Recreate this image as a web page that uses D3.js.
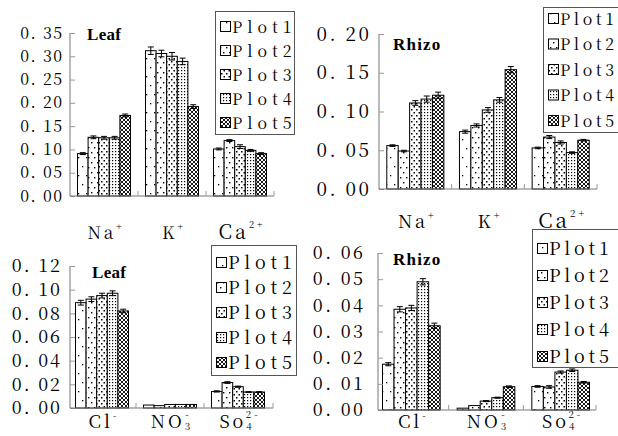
<!DOCTYPE html>
<html><head><meta charset="utf-8">
<script src="https://cdn.jsdelivr.net/npm/d3@7"></script>
<style>
html,body{margin:0;padding:0;background:#fff;}
svg{display:block;}
text{white-space:pre;font-family:"Noto Serif CJK SC","Liberation Serif","Times New Roman",serif;}
text.title{font-family:"Liberation Serif","Times New Roman",serif;}
</style></head>
<body>
<svg id="chart" width="618" height="436"></svg>
<script>
// ---------------- DATA ----------------
const seriesNames = ["Plot1", "Plot2", "Plot3", "Plot4", "Plot5"];
const cationLabels = ["Na+", "K+", "Ca2+"];
const anionLabels = ["Cl-", "NO3-", "SO42-"];

// rows = series (Plot1..Plot5), columns = categories
const leafCationValues = [
  [0.091, 0.312, 0.101],
  [0.126, 0.306, 0.119],
  [0.125, 0.300, 0.106],
  [0.125, 0.289, 0.098],
  [0.173, 0.192, 0.091]
];
const leafCationErrors = [
  [0.002, 0.008, 0.002],
  [0.003, 0.007, 0.002],
  [0.003, 0.008, 0.004],
  [0.003, 0.007, 0.002],
  [0.003, 0.004, 0.002]
];
const rhizoCationValues = [
  [0.056, 0.074, 0.053],
  [0.049, 0.082, 0.067],
  [0.111, 0.102, 0.060],
  [0.116, 0.115, 0.047],
  [0.121, 0.154, 0.063]
];
const rhizoCationErrors = [
  [0.001, 0.002, 0.001],
  [0.001, 0.002, 0.002],
  [0.003, 0.003, 0.002],
  [0.004, 0.003, 0.001],
  [0.004, 0.004, 0.001]
];
const leafAnionValues = [
  [0.089, 0.0025, 0.0140],
  [0.092, 0.0020, 0.0215],
  [0.095, 0.0030, 0.0180],
  [0.097, 0.0030, 0.0135],
  [0.082, 0.0030, 0.0135]
];
const leafAnionErrors = [
  [0.0020, 0, 0.0005],
  [0.0020, 0, 0.0007],
  [0.0020, 0, 0.0005],
  [0.0020, 0, 0.0003],
  [0.0015, 0, 0.0003]
];
const rhizoAnionValues = [
  [0.0175, 0.0007, 0.0090],
  [0.0385, 0.0017, 0.0088],
  [0.0390, 0.0034, 0.0145],
  [0.0490, 0.0047, 0.0152],
  [0.0322, 0.0089, 0.0106]
];
const rhizoAnionErrors = [
  [0.0006, 0, 0.0003],
  [0.0010, 0, 0.0005],
  [0.0010, 0.0002, 0.0004],
  [0.0012, 0.0002, 0.0005],
  [0.0010, 0.0003, 0.0003]
];

const leafCationTicks = [0, 0.05, 0.10, 0.15, 0.20, 0.25, 0.30, 0.35];
const rhizoCationTicks = [0, 0.05, 0.10, 0.15, 0.20];
const leafAnionTicks = [0, 0.02, 0.04, 0.06, 0.08, 0.10, 0.12];
const rhizoAnionTicks = [0, 0.01, 0.02, 0.03, 0.04, 0.05, 0.06];

// ---------------- LAYOUT ----------------
const panels = [
  {title: "Leaf", cats: cationLabels, values: leafCationValues, errors: leafCationErrors, ticks: leafCationTicks,
   ax: 70, axEnd: 274, bx0: 70, bx1: 274, y0: 196, yTop: 33, pad: 7.5,
   tickFont: 16, tickLS: 1.5, tickRight: 62,
   titleX: 87, titleY: 40, labelY: 239, labelFont: 17,
   legend: {x: 215, y: 11, w: 79, h: 123, first: 27, step: 24, font: 16, ls: 5}},
  {title: "Rhizo", cats: cationLabels, values: rhizoCationValues, errors: rhizoCationErrors, ticks: rhizoCationTicks,
   ax: 379, axEnd: 597, bx0: 379, bx1: 597, y0: 189, yTop: 34, pad: 7.8,
   tickFont: 19, tickLS: 2.5, tickRight: 369,
   titleX: 393, titleY: 50, labelY: 228, labelFont: 18,
   legend: {x: 543, y: 7, w: 80, h: 125, first: 19, step: 25.5, font: 16, ls: 3.6}},
  {title: "Leaf", cats: anionLabels, values: leafAnionValues, errors: leafAnionErrors, ticks: leafAnionTicks,
   ax: 70, axEnd: 273, bx0: 68, bx1: 272, y0: 408, yTop: 266, pad: 7.5,
   tickFont: 18, tickLS: 2, tickRight: 60,
   titleX: 92, titleY: 278, labelY: 428, labelFont: 18,
   legend: {x: 211, y: 245, w: 85, h: 130, first: 263, step: 25, font: 18, ls: 4.8}},
  {title: "Rhizo", cats: anionLabels, values: rhizoAnionValues, errors: rhizoAnionErrors, ticks: rhizoAnionTicks,
   ax: 378, axEnd: 596, bx0: 374, bx1: 598, y0: 410, yTop: 253, pad: 8.5,
   tickFont: 18, tickLS: 2.5, tickRight: 363,
   titleX: 393, titleY: 265, labelY: 428, labelFont: 18,
   legend: {x: 532, y: 229, w: 90, h: 138, first: 249, step: 27, font: 18, ls: 3.8}}
];

const svg = d3.select("#chart");
const defs = svg.append("defs");

// ---------------- PATTERNS ----------------
function dotPattern(id, w, h, dots, r) {
  const p = defs.append("pattern").attr("id", id).attr("patternUnits", "userSpaceOnUse")
    .attr("width", w).attr("height", h);
  p.append("rect").attr("width", w).attr("height", h).attr("fill", "#fff");
  dots.forEach(d => p.append("rect").attr("x", d[0]).attr("y", d[1]).attr("width", r).attr("height", r).attr("fill", "#000"));
}
dotPattern("pat0", 8, 18, [[2, 4], [6, 13]], 1.3);
dotPattern("pat1", 6, 10, [[1, 2], [4, 7]], 1.4);
dotPattern("pat2", 5, 6, [[1, 1], [3.5, 4]], 1.5);
dotPattern("pat3", 3, 3, [[1, 1]], 1.2);
(function () {
  const p = defs.append("pattern").attr("id", "pat4").attr("patternUnits", "userSpaceOnUse")
    .attr("width", 4).attr("height", 4);
  p.append("rect").attr("width", 4).attr("height", 4).attr("fill", "#fff");
  p.append("path").attr("d", "M0,0L4,4M4,0L0,4").attr("stroke", "#000").attr("stroke-width", 0.9);
})();
const patFill = i => `url(#pat${i})`;

// ---------------- LABEL HELPERS ----------------
function catLabel(g, label, x, y, fs) {
  const t = g.append("text").attr("x", x).attr("y", y).attr("text-anchor", "middle")
    .attr("font-size", fs).attr("fill", "#000")
    .attr("letter-spacing", 3);
  const small = fs * 0.55;
  if (label === "Na+") { t.append("tspan").text("Na"); t.append("tspan").attr("font-size", small).attr("dy", -9).text("+"); }
  else if (label === "K+") { t.append("tspan").text("K"); t.append("tspan").attr("font-size", small).attr("dy", -9).text("+"); }
  else if (label === "Ca2+") { t.append("tspan").attr("font-size", fs * 1.15).text("Ca"); t.append("tspan").attr("font-size", small).attr("dy", -11).text("2+"); }
  else if (label === "Cl-") { t.append("tspan").text("Cl"); t.append("tspan").attr("font-size", small).attr("dy", -9).text("-"); }
  else if (label === "NO3-") {
    t.append("tspan").text("NO");
    t.append("tspan").attr("font-size", small).attr("dy", 2).text("3");
    t.append("tspan").attr("font-size", small).attr("dx", -8).attr("dy", -12).text("-");
  } else if (label === "SO42-") {
    t.append("tspan").text("So");
    t.append("tspan").attr("font-size", small).attr("dy", 2).text("4");
    t.append("tspan").attr("font-size", small).attr("dx", -9).attr("dy", -12).text("2-");
  }
  return t;
}

// ---------------- DRAW PANELS ----------------
panels.forEach(P => {
  const g = svg.append("g");
  const dmax = P.ticks[P.ticks.length - 1];
  const y = d3.scaleLinear().domain([0, dmax]).range([P.y0, P.yTop]);
  const x0 = d3.scaleBand().domain(P.cats).range([P.bx0, P.bx1]).padding(0);
  const x1 = d3.scaleBand().domain(seriesNames).range([P.pad, x0.bandwidth() - P.pad]).padding(0);

  // bars
  seriesNames.forEach((s, si) => {
    P.cats.forEach((c, ci) => {
      const v = P.values[si][ci];
      const bx = x0(c) + x1(s);
      g.append("rect").attr("x", bx).attr("y", y(v)).attr("width", x1.bandwidth())
        .attr("height", P.y0 - y(v)).attr("fill", patFill(si))
        .attr("stroke", "#000").attr("stroke-width", 1);
      const e = P.errors[si][ci];
      if (e > 0) {
        const cx = bx + x1.bandwidth() / 2, cw = 3;
        g.append("path").attr("d",
          `M${cx},${y(v - e)}V${y(v + e)}M${cx - cw},${y(v + e)}H${cx + cw}M${cx - cw},${y(v - e)}H${cx + cw}`)
          .attr("stroke", "#000").attr("stroke-width", 1).attr("fill", "none");
      }
    });
  });

  // y axis (ticks pointing inwards)
  const yAxis = d3.axisRight(y).tickValues(P.ticks).tickSize(5).tickFormat("");
  const ya = g.append("g").attr("transform", `translate(${P.ax},0)`).call(yAxis);
  ya.select(".domain").attr("stroke", "#777").attr("d", `M0,${P.yTop}V${P.y0}`);
  ya.selectAll(".tick line").attr("stroke", "#999");
  // tick labels
  P.ticks.forEach(tv => {
    g.append("text").attr("x", P.tickRight + P.tickLS).attr("y", y(tv)).attr("dy", "0.35em")
      .attr("text-anchor", "end").attr("font-size", P.tickFont)
      .attr("letter-spacing", P.tickLS).attr("fill", "#000")
      .text(d3.format(".2f")(tv).replace(".", ". "));
  });

  // x axis
  g.append("line").attr("x1", P.ax).attr("x2", P.axEnd).attr("y1", P.y0).attr("y2", P.y0)
    .attr("stroke", "#777");
  P.cats.slice(1).forEach(c => {
    g.append("line").attr("x1", x0(c)).attr("x2", x0(c)).attr("y1", P.y0).attr("y2", P.y0 - 5)
      .attr("stroke", "#999");
  });
  g.append("line").attr("x1", P.axEnd).attr("x2", P.axEnd).attr("y1", P.y0).attr("y2", P.y0 - 5).attr("stroke", "#999");

  // category labels
  P.cats.forEach(c => catLabel(g, c, x0(c) + x0.bandwidth() / 2 + 2, P.labelY, P.labelFont));

  // title
  g.append("text").attr("class", "title").attr("x", P.titleX).attr("y", P.titleY)
    .attr("font-weight", "bold").attr("font-size", 17).attr("letter-spacing", P.title === "Rhizo" ? 1.2 : 0.3)
    .text(P.title);

  // legend
  const L = P.legend;
  g.append("rect").attr("x", L.x + 0.5).attr("y", L.y + 0.5).attr("width", L.w).attr("height", L.h)
    .attr("fill", "#fff").attr("stroke", "#555").attr("stroke-width", 1);
  seriesNames.forEach((s, si) => {
    const cy = L.first + si * L.step;
    g.append("rect").attr("x", L.x + 5.5).attr("y", cy - 5.5).attr("width", 10).attr("height", 10)
      .attr("fill", patFill(si)).attr("stroke", "#000").attr("stroke-width", 1);
    g.append("text").attr("x", L.x + 17).attr("y", cy).attr("dy", "0.36em")
      .attr("font-size", L.font).attr("letter-spacing", L.ls)
      .attr("fill", "#000").text(s);
  });
});
</script>
</body></html>
